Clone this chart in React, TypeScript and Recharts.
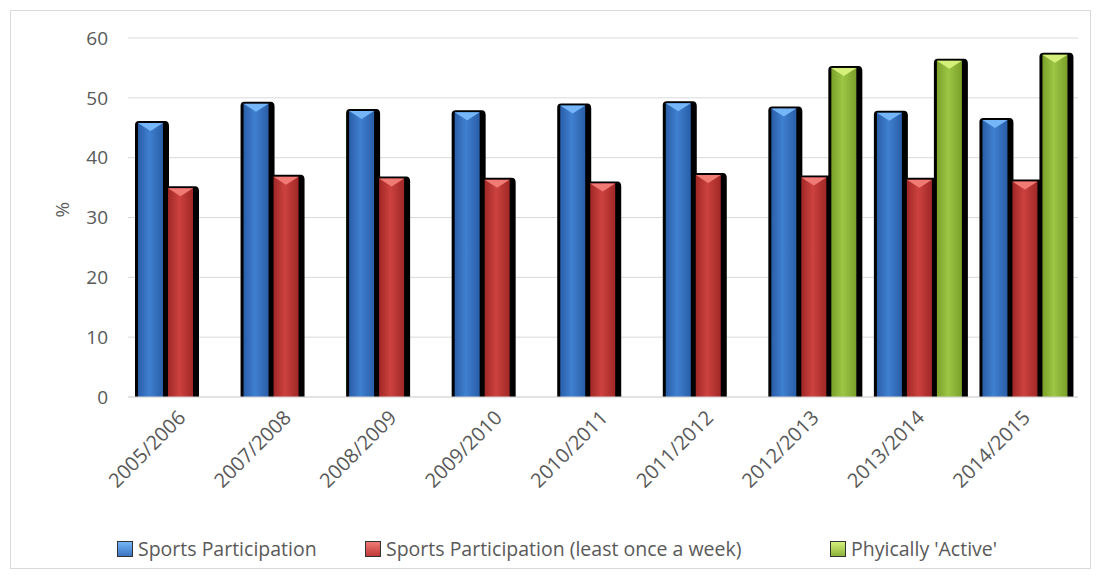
import React from "react";
import { BarChart, Bar, XAxis, YAxis, CartesianGrid } from "recharts";

const seasons = [
  "2005/2006",
  "2007/2008",
  "2008/2009",
  "2009/2010",
  "2010/2011",
  "2011/2012",
  "2012/2013",
  "2013/2014",
  "2014/2015",
];
const sportsParticipation = [45.8, 49.0, 47.8, 47.6, 48.7, 49.1, 48.2, 47.5, 46.3];
const weeklyParticipation = [34.9, 36.8, 36.5, 36.3, 35.7, 37.1, 36.7, 36.3, 36.0];
const physicallyActive = [null, null, null, null, null, null, 55.0, 56.2, 57.2];
const yTicks = [0, 10, 20, 30, 40, 50, 60];

const data = seasons.map((season, i) => ({
  season,
  sports: sportsParticipation[i],
  weekly: weeklyParticipation[i],
  active: physicallyActive[i],
}));

const FONT = "'Open Sans', 'Liberation Sans', sans-serif";
const TEXT = "#595959";

const palette = {
  blue: { edge: "#2a5ea8", mid: "#3f80d0", top: "#74b6f7", legend: "#3b74c0" },
  red: { edge: "#a02826", mid: "#cc4240", top: "#f07a74", legend: "#c0393a" },
  green: { edge: "#7ba02a", mid: "#9cc644", top: "#d4ef7a", legend: "#8cb33a" },
};
type Key = keyof typeof palette;

function bevelShape(key: Key) {
  return (props: any) => {
    const { x, y, width, height } = props;
    if (!height || height <= 0) return <g />;
    const bottom = y + height;
    const fx = x + 1;
    const fw = width - 2;
    return (
      <g>
        <path
          d={`M${x - 2},${bottom} L${x - 2},${y + 2} Q${x - 2},${y - 2} ${x + 2},${y - 2} L${x + width + 1},${y - 2} Q${x + width + 5},${y - 2} ${x + width + 5},${y + 3} L${x + width + 5},${bottom} Z`}
          fill="#000"
        />
        <rect x={fx} y={y} width={fw} height={height} fill={`url(#grad-${key})`} />
        <path
          d={`M${fx},${y} L${fx + fw},${y} L${fx + fw / 2},${y + 8} Z`}
          fill={palette[key].top}
        />
      </g>
    );
  };
}

function XTick(props: any) {
  const { x, y, payload } = props;
  return (
    <text
      x={x + 6}
      y={y + 14}
      textAnchor="end"
      fill={TEXT}
      fontSize={20}
      fontFamily={FONT}
      transform={`rotate(-45, ${x + 6}, ${y + 14})`}
    >
      {payload.value}
    </text>
  );
}

const legendItems: { key: Key; label: string; left: number }[] = [
  { key: "blue", label: "Sports Participation", left: 117 },
  { key: "red", label: "Sports Participation (least once a week)", left: 365 },
  { key: "green", label: "Phyically 'Active'", left: 830 },
];

export default function App() {
  return (
    <div
      style={{
        position: "absolute",
        left: 0,
        top: 0,
        width: 1100,
        height: 578,
        background: "#fff",
        fontFamily: FONT,
      }}
    >
      <div
        style={{
          position: "absolute",
          left: 10,
          top: 10,
          width: 1079,
          height: 557,
          border: "1px solid #d9d9d9",
        }}
      />
      <BarChart
        width={1100}
        height={578}
        data={data}
        margin={{ top: 38, right: 22, left: 68, bottom: 101 }}
        barSize={27}
        barGap={3}
      >
        <defs>
          {(Object.keys(palette) as Key[]).map((k) => (
            <linearGradient key={k} id={`grad-${k}`} x1="0" y1="0" x2="1" y2="0">
              <stop offset="0%" stopColor={palette[k].edge} />
              <stop offset="45%" stopColor={palette[k].mid} />
              <stop offset="100%" stopColor={palette[k].edge} />
            </linearGradient>
          ))}
        </defs>
        <CartesianGrid vertical={false} stroke="#d9d9d9" strokeWidth={1} />
        <XAxis
          dataKey="season"
          height={80}
          interval={0}
          tick={<XTick />}
          tickLine={false}
          axisLine={{ stroke: "#d9d9d9" }}
        />
        <YAxis
          width={60}
          domain={[0, 60]}
          ticks={yTicks}
          axisLine={false}
          tickLine={false}
          tick={{ fill: TEXT, fontSize: 19, fontFamily: FONT }}
          tickMargin={14}
          label={{
            value: "%",
            angle: -90,
            position: "insideLeft",
            offset: -6,
            fill: TEXT,
            fontSize: 19,
            fontFamily: FONT,
          }}
        />
        <Bar dataKey="sports" shape={bevelShape("blue")} isAnimationActive={false} />
        <Bar dataKey="weekly" shape={bevelShape("red")} isAnimationActive={false} />
        <Bar dataKey="active" shape={bevelShape("green")} isAnimationActive={false} />
      </BarChart>
      {legendItems.map((it) => (
        <div
          key={it.key}
          style={{
            position: "absolute",
            top: 535,
            left: it.left,
            display: "flex",
            alignItems: "center",
            fontSize: 19.5,
            color: TEXT,
            whiteSpace: "nowrap",
          }}
        >
          <span
            style={{
              display: "inline-block",
              width: 14,
              height: 14,
              marginRight: 5,
              border: "1px solid #333",
              background: `linear-gradient(${palette[it.key].top}, ${palette[it.key].legend})`,
            }}
          />
          {it.label}
        </div>
      ))}
    </div>
  );
}
